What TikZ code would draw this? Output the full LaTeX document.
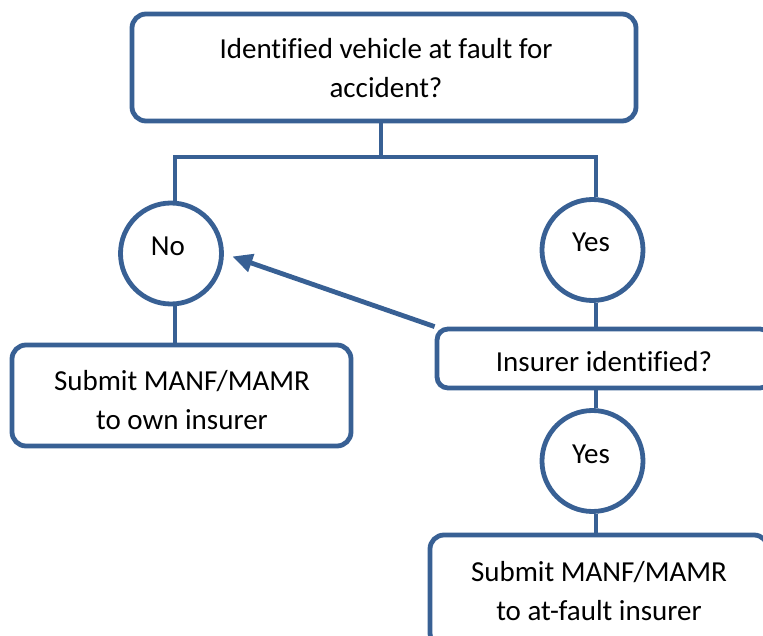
\documentclass[tikz,border=0pt]{standalone}
\usepackage{fontspec}
\setmainfont{Carlito}[Ligatures=NoCommon]
\usetikzlibrary{arrows.meta}
\definecolor{fb}{RGB}{56,96,148}
\tikzset{
  box/.style={draw=fb, line width=4.8pt, fill=white, rounded corners=14pt, inner sep=0pt},
  circ/.style={draw=fb, line width=4.8pt, fill=white, circle, minimum size=101pt, inner sep=0pt},
  txt/.style={align=center, inner sep=0pt, text=black, font=\fontsize{29}{39}\selectfont},
  conn/.style={draw=fb, line width=4.8pt},
}
\begin{document}
\begin{tikzpicture}[x=1pt,y=-1pt]
\useasboundingbox (0,0) rectangle (763,636);
\clip (0,0) rectangle (763,636);
% boxes and circles
\node[box, minimum width=504pt, minimum height=107pt] (q) at (384,67.5) {};
\node[circ] (no) at (171,253.5) {};
\node[circ] (yes1) at (592.5,250) {};
\node[box, minimum width=339pt, minimum height=101pt] (own) at (181.5,395.5) {};
\node[box, rounded corners=11pt, minimum width=334pt, minimum height=59pt] (ins) at (604,358.5) {};
\node[circ] (yes2) at (592.5,461) {};
\node[box, minimum width=338pt, minimum height=112pt] (fault) at (599,591) {};
% texts
\node[txt] (qt) at (386,68) {Identified vehicle at fault for\\accident?};
\node[txt] (not) at (168,246) {No};
\node[txt] (yes1t) at (591,242.5) {Yes};
\node[txt] (ownt) at (182,400) {Submit MANF/MAMR\\to own insurer};
\node[txt] (inst) at (604,361.5) {Insurer identified?};
\node[txt] (yes2t) at (591,454) {Yes};
\node[txt] (faultt) at (599,591) {Submit MANF/MAMR\\to at-fault insurer};
% split bar coordinates
\coordinate (qv) at (381,157);
\coordinate (hl) at (175,157);
\coordinate (hr) at (596,157);
% connectors
\draw[conn] (qv |- q.south) -- (qv);
\draw[conn] (hl |- no.north) -- (hl) -- (hr) -- (hr |- yes1.north);
\draw[conn] (hl |- no.south) -- (hl |- own.north);
\draw[conn] (hr |- yes1.south) -- (hr |- ins.north);
\draw[conn] (hr |- ins.south) -- (hr |- yes2.north);
\draw[conn] (hr |- yes2.south) -- (hr |- fault.north);
% arrow
\draw[conn, -{Triangle[length=20pt,width=18pt]}, shorten >=9pt] (ins.north west) -- (no.east);
\end{tikzpicture}
\end{document}
